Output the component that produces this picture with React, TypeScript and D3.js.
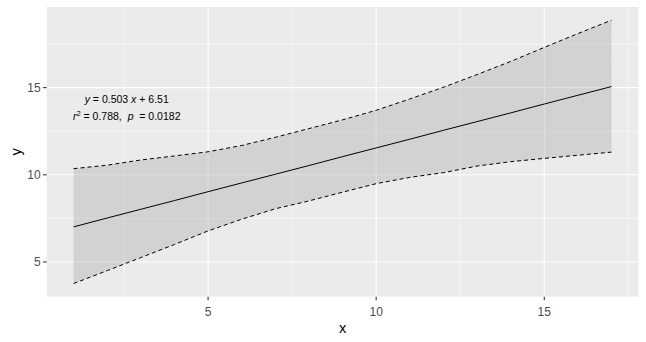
import React from "react";
import * as d3 from "d3";

const xs = [1, 2, 3, 4, 5, 6, 7, 8, 9, 10, 11, 12, 13, 14, 15, 16, 17];
const fitY = [7.01, 7.52, 8.02, 8.52, 9.03, 9.53, 10.03, 10.53, 11.04, 11.54, 12.04, 12.55, 13.05, 13.55, 14.06, 14.56, 15.06];
const upperY = [10.35, 10.55, 10.85, 11.08, 11.32, 11.68, 12.15, 12.65, 13.15, 13.7, 14.35, 15.02, 15.75, 16.5, 17.31, 18.1, 18.87];
const lowerY = [3.76, 4.5, 5.25, 6.0, 6.78, 7.45, 8.05, 8.5, 9.0, 9.49, 9.85, 10.12, 10.5, 10.75, 10.94, 11.12, 11.3];
const xTicks = [5, 10, 15];
const yTicks = [5, 10, 15];
const xMinor = [2.5, 7.5, 12.5, 17.5];
const yMinor = [7.5, 12.5, 17.5];

const W = 646;
const H = 342;
const panel = { left: 46.7, right: 638.4, top: 7, bottom: 296.7 };

export default function App() {
  const dataMinX = d3.min(xs)!;
  const dataMaxX = d3.max(xs)!;
  const dataMinY = d3.min(lowerY)!;
  const dataMaxY = d3.max(upperY)!;
  const ex = (dataMaxX - dataMinX) * 0.05;
  const ey = (dataMaxY - dataMinY) * 0.05;
  const x = d3.scaleLinear().domain([dataMinX - ex, dataMaxX + ex]).range([panel.left, panel.right]);
  const y = d3.scaleLinear().domain([dataMinY - ey, dataMaxY + ey]).range([panel.bottom, panel.top]);

  const idx = xs.map((_, i) => i);
  const area = d3
    .area<number>()
    .x((i) => x(xs[i]))
    .y0((i) => y(lowerY[i]))
    .y1((i) => y(upperY[i]));
  const line = (arr: number[]) =>
    d3
      .line<number>()
      .x((i) => x(xs[i]))
      .y((i) => y(arr[i]))(idx)!;

  const font = "Liberation Sans, Arial, sans-serif";
  const annX = x(2.58);
  return (
    <svg
      width={W}
      height={H}
      style={{ position: "fixed", left: 0, top: 0, background: "white" }}
      fontFamily={font}
    >
      <rect x={panel.left} y={panel.top} width={panel.right - panel.left} height={panel.bottom - panel.top} fill="#EBEBEB" />
      {xMinor.map((v) => (
        <line key={"xm" + v} x1={x(v)} x2={x(v)} y1={panel.top} y2={panel.bottom} stroke="white" strokeWidth={0.55} />
      ))}
      {yMinor.map((v) => (
        <line key={"ym" + v} y1={y(v)} y2={y(v)} x1={panel.left} x2={panel.right} stroke="white" strokeWidth={0.55} />
      ))}
      {xTicks.map((v) => (
        <line key={"xg" + v} x1={x(v)} x2={x(v)} y1={panel.top} y2={panel.bottom} stroke="white" strokeWidth={1.07} />
      ))}
      {yTicks.map((v) => (
        <line key={"yg" + v} y1={y(v)} y2={y(v)} x1={panel.left} x2={panel.right} stroke="white" strokeWidth={1.07} />
      ))}
      <path d={area(idx)!} fill="#999999" fillOpacity={0.3} />
      <path d={line(upperY)} fill="none" stroke="black" strokeWidth={1} strokeDasharray="4,3" />
      <path d={line(lowerY)} fill="none" stroke="black" strokeWidth={1} strokeDasharray="4,3" />
      <path d={line(fitY)} fill="none" stroke="black" strokeWidth={1} />

      <text x={annX} y={102.7} fontSize={10.5} textAnchor="middle" fill="black" style={{ whiteSpace: "pre" }}>
        <tspan fontStyle="italic">y</tspan>
        <tspan>{" = 0.503 "}</tspan>
        <tspan fontStyle="italic">x</tspan>
        <tspan>{" + 6.51"}</tspan>
      </text>
      <text x={annX} y={120} fontSize={10.5} textAnchor="middle" fill="black" style={{ whiteSpace: "pre" }}>
        <tspan fontStyle="italic">r</tspan>
        <tspan dy={-4.5} fontSize={7.5}>2</tspan>
        <tspan dy={4.5}>{" = 0.788,  "}</tspan>
        <tspan fontStyle="italic">p</tspan>
        <tspan>{"  = 0.0182"}</tspan>
      </text>

      {xTicks.map((v) => (
        <g key={"xt" + v}>
          <line x1={x(v)} x2={x(v)} y1={panel.bottom} y2={panel.bottom + 3.65} stroke="#333333" strokeWidth={1.07} />
          <text x={x(v)} y={315.5} fontSize={12} textAnchor="middle" fill="#4D4D4D">
            {v}
          </text>
        </g>
      ))}
      {yTicks.map((v) => (
        <g key={"yt" + v}>
          <line x1={panel.left - 3.65} x2={panel.left} y1={y(v)} y2={y(v)} stroke="#333333" strokeWidth={1.07} />
          <text x={panel.left - 6} y={y(v) + 4.3} fontSize={12} textAnchor="end" fill="#4D4D4D">
            {v}
          </text>
        </g>
      ))}
      <text x={(panel.left + panel.right) / 2} y={333} fontSize={14.6} textAnchor="middle" fill="black">
        x
      </text>
      <text
        transform={`translate(21, ${(panel.top + panel.bottom) / 2}) rotate(-90)`}
        fontSize={14.6}
        textAnchor="middle"
        fill="black"
      >
        y
      </text>
    </svg>
  );
}
